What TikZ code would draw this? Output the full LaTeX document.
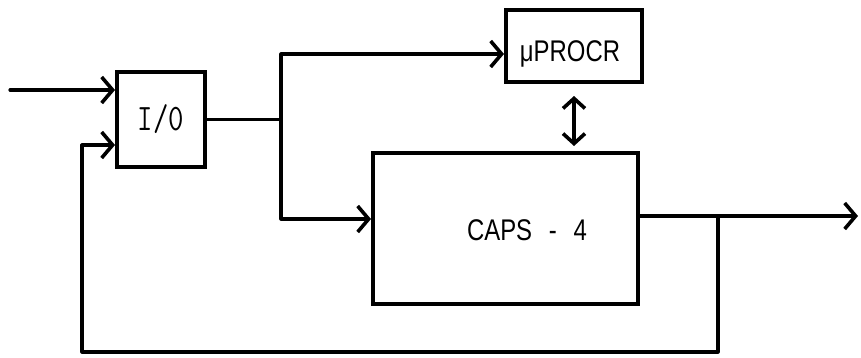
\documentclass[tikz,border=0pt]{standalone}
\usepackage{fontspec}
\setmainfont{Liberation Sans}
\usetikzlibrary{arrows.meta}
\begin{document}
\begin{tikzpicture}[x=1bp,y=-1bp,
  wire/.style={line width=3.2bp, line cap=round, line join=round},
  arr/.style={wire, -{Straight Barb[length=11bp,width=26bp,line width=3.6bp]}},
  dblarr/.style={wire, {Straight Barb[length=10bp,width=22bp,line width=3.6bp]}-{Straight Barb[length=10bp,width=22bp,line width=3.6bp]}},
  block/.style={draw, line width=4bp, inner sep=0pt, anchor=center},
  lbl/.style={font=\fontsize{30}{32}\selectfont}]
\useasboundingbox (0,0) rectangle (861,357);

% blocks
\node[block, lbl, minimum width=88bp, minimum height=95bp] (io) at (161,119.5)
  {\scalebox{1}[1.25]{\ttfamily I/0}};
\node[block, minimum width=136bp, minimum height=72bp] (procr) at (574,46) {};
\node[lbl] at (570,54) {\scalebox{0.8}[1]{μPROCR}};
\node[block, minimum width=265bp, minimum height=151bp] (caps) at (505.5,228.5) {};
\node[lbl] at (527,230) {\scalebox{0.8}[1]{CAPS\hspace{0.7em}-\hspace{0.7em}4}};

% junction points
\coordinate (in) at (10,90);
\coordinate (br) at (281,119.5);
\coordinate (top) at (281,54);
\coordinate (low) at (281,219);
\coordinate (out) at (858,216);
\coordinate (split) at (718,216);
\coordinate (fbB) at (718,352);
\coordinate (fbL) at (82,352);
\coordinate (fbin) at (82,145);

% input
\draw[arr] (in) -- (in -| io.west);
% I/O to the two processors
\draw[wire] (io.east) -- (br);
\draw[arr] (br) -- (top) -- (top -| procr.west);
\draw[arr] (br) -- (low) -- (low -| caps.west);
% processor link
\draw[dblarr, shorten <=12bp, shorten >=5bp] (procr.south) -- (procr.south |- caps.north);
% output and feedback
\draw[arr] (out -| caps.east) -- (out);
\draw[arr] (split) -- (fbB) -- (fbL) -- (fbin) -- (fbin -| io.west);
\end{tikzpicture}
\end{document}
